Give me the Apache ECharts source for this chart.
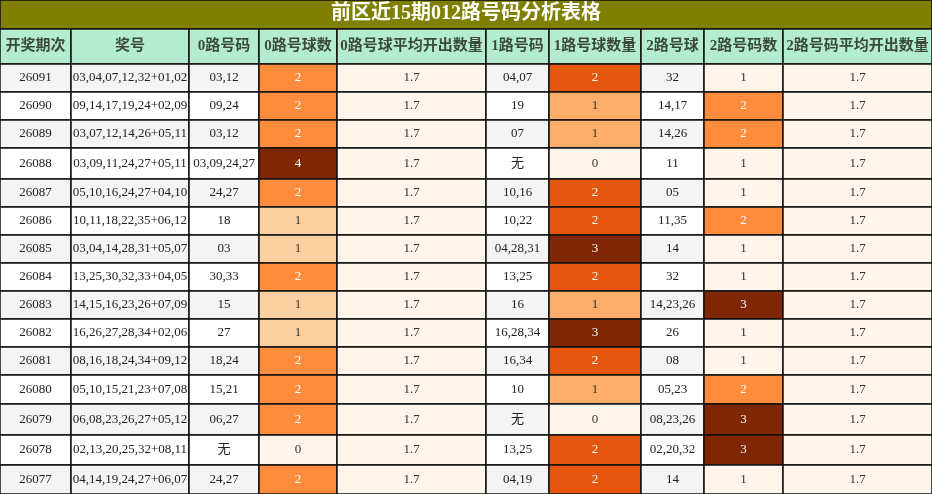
<!DOCTYPE html>
<html>
<head>
<meta charset="utf-8">
<script src="https://cdn.jsdelivr.net/npm/echarts@6/dist/echarts.min.js"></script>
<style>html,body{margin:0;padding:0;background:#fff}#main{width:932px;height:494px}</style>
</head>
<body>
<div id="main"></div>
<script>
// 表格数据
var headers = ['开奖期次','奖号','0路号码','0路号球数','0路号球平均开出数量','1路号码','1路号球数量','2路号球','2路号码数','2路号码平均开出数量'];
var periods = ['26091','26090','26089','26088','26087','26086','26085','26084','26083','26082','26081','26080','26079','26078','26077'];
var draws = ['03,04,07,12,32+01,02','09,14,17,19,24+02,09','03,07,12,14,26+05,11','03,09,11,24,27+05,11','05,10,16,24,27+04,10','10,11,18,22,35+06,12','03,04,14,28,31+05,07','13,25,30,32,33+04,05','14,15,16,23,26+07,09','16,26,27,28,34+02,06','08,16,18,24,34+09,12','05,10,15,21,23+07,08','06,08,23,26,27+05,12','02,13,20,25,32+08,11','04,14,19,24,27+06,07'];
var zeroNums = ['03,12','09,24','03,12','03,09,24,27','24,27','18','03','30,33','15','27','18,24','15,21','06,27','无','24,27'];
var zeroCnt = [2,2,2,4,2,1,1,2,1,1,2,2,2,0,2];
var zeroAvg = 1.7;
var oneNums = ['04,07','19','07','无','10,16','10,22','04,28,31','13,25','16','16,28,34','16,34','10','无','13,25','04,19'];
var oneCnt = [2,1,1,0,2,2,3,2,1,3,2,1,0,2,2];
var twoNums = ['32','14,17','14,26','11','05','11,35','14','32','14,23,26','26','08','05,23','08,23,26','02,20,32','14'];
var twoCnt = [1,2,2,1,1,2,1,1,3,1,1,2,3,3,1];
var twoAvg = 1.7;

// 布局
var colEdges = [0,71,189,259,337,486,549,641,704,783,932];
var rowEdges = [29,64,92,120,148,179,207,235,263,291,319,347,375,404,435,465,494];
var cntColors = [
    {0:'#fff5eb',1:'#fdd0a2',2:'#fd8d3c',4:'#7f2704'},
    {0:'#fff5eb',1:'#fdae6b',2:'#e6550d',3:'#7f2704'},
    {1:'#fff5eb',2:'#fd8d3c',3:'#7f2704'}
];

var cells = [];
headers.forEach(function(h,c){
    cells.push([c,0,h,'#b3ecd0','#3c4a3c',true]);
});
periods.forEach(function(p,i){
    var r = i+1;
    var plain = i%2===0 ? '#f4f4f4' : '#ffffff';
    function cnt(v,k){
        var bg = cntColors[k][v];
        var dark = (k===0 && v>=2) || (k===1 && v>=2) || (k===2 && v>=2);
        return [bg, dark ? '#ffffff' : '#333'];
    }
    var z = cnt(zeroCnt[i],0), o = cnt(oneCnt[i],1), t = cnt(twoCnt[i],2);
    cells.push([0,r,p,plain,'#222']);
    cells.push([1,r,draws[i],plain,'#222']);
    cells.push([2,r,zeroNums[i],plain,'#222']);
    cells.push([3,r,String(zeroCnt[i]),z[0],z[1]]);
    cells.push([4,r,String(zeroAvg),'#fff5eb','#333']);
    cells.push([5,r,oneNums[i],plain,'#222']);
    cells.push([6,r,String(oneCnt[i]),o[0],o[1]]);
    cells.push([7,r,twoNums[i],plain,'#222']);
    cells.push([8,r,String(twoCnt[i]),t[0],t[1]]);
    cells.push([9,r,String(twoAvg),'#fff5eb','#333']);
});

var myChart = echarts.init(document.getElementById('main'));
myChart.setOption({
    backgroundColor:'#fff',
    animation:false,
    title:{show:false},
    grid:{left:0,right:0,top:0,bottom:0},
    xAxis:{type:'value',min:0,max:932,show:false},
    yAxis:{type:'value',min:0,max:494,inverse:true,show:false},
    graphic:[
        {type:'rect',shape:{x:0,y:0,width:932,height:29},style:{fill:'#808000',stroke:'#111',lineWidth:1.5}},
        {type:'text',left:'center',top:4,style:{text:'前区近15期012路号码分析表格',fill:'#fff',font:'bold 20px "Liberation Serif","Noto Sans CJK SC",serif'}}
    ],
    series:[{
        type:'custom',
        data:cells,
        renderItem:function(params,api){
            var c = api.value(0), r = api.value(1);
            var d = cells[params.dataIndex];
            var p1 = api.coord([colEdges[c],rowEdges[r]]);
            var p2 = api.coord([colEdges[c+1],rowEdges[r+1]]);
            var header = d[5];
            return {
                type:'rect',
                shape:{x:p1[0],y:p1[1],width:p2[0]-p1[0],height:p2[1]-p1[1]},
                style:{fill:d[3],stroke:'#111',lineWidth:1.5},
                textContent:{
                    style:{
                        text:d[2],
                        fill:d[4],
                        font:(header?'bold 15px ':'13px ')+'"Liberation Serif","Noto Sans CJK SC",serif'
                    }
                },
                textConfig:{position:'inside'}
            };
        }
    }]
});
</script>
</body>
</html>
